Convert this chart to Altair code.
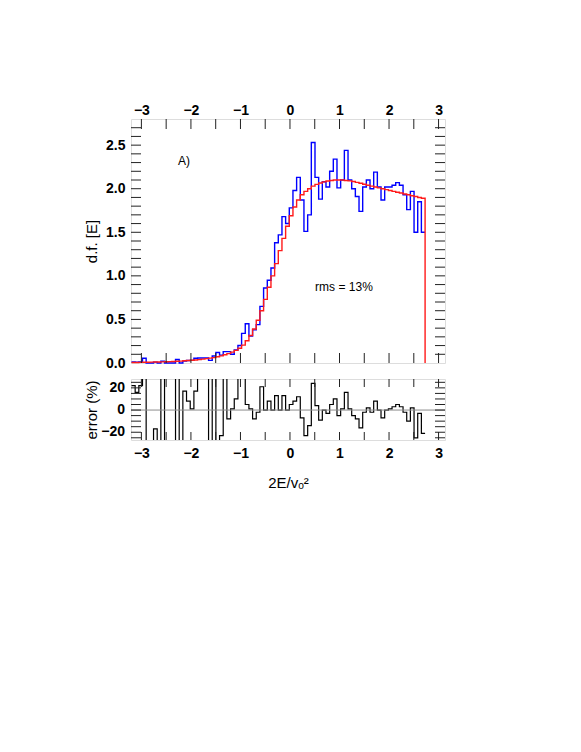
import altair as alt
import pandas as pd

# ---------------- data ----------------
bin_left = [-3.200, -3.126, -3.052, -2.978, -2.904, -2.830, -2.755, -2.681, -2.607, -2.533,
            -2.459, -2.385, -2.311, -2.237, -2.163, -2.089, -2.014, -1.940, -1.866, -1.792,
            -1.718, -1.644, -1.570, -1.496, -1.422, -1.348, -1.274, -1.199, -1.125, -1.051,
            -0.977, -0.903, -0.829, -0.755, -0.681, -0.607, -0.533, -0.458, -0.384, -0.310,
            -0.236, -0.162, -0.088, -0.014, 0.060, 0.134, 0.208, 0.282, 0.357, 0.431,
            0.505, 0.579, 0.653, 0.727, 0.801, 0.875, 0.949, 1.023, 1.098, 1.172,
            1.246, 1.320, 1.394, 1.468, 1.542, 1.616, 1.690, 1.764, 1.838, 1.912,
            1.987, 2.061, 2.135, 2.209, 2.283, 2.357, 2.431, 2.505, 2.579, 2.653]
bin_end = 2.728

df_data = [0.012, 0.010, 0.012, 0.055, 0.000, 0.000, 0.010, 0.000, 0.020, 0.000,
           0.000, 0.000, 0.040, 0.000, 0.022, 0.028, 0.030, 0.055, 0.058, 0.058,
           0.058, 0.030, 0.080, 0.120, 0.090, 0.130, 0.130, 0.100, 0.150, 0.200,
           0.340, 0.450, 0.310, 0.380, 0.440, 0.650, 0.860, 0.950, 1.090, 1.380,
           1.470, 1.680, 1.600, 1.780, 1.980, 2.130, 1.870, 1.510, 1.700, 2.530,
           2.130, 1.880, 2.080, 2.020, 2.200, 2.340, 2.010, 2.100, 2.440, 2.100,
           2.000, 1.910, 1.740, 2.020, 2.100, 2.000, 2.190, 2.020, 1.870, 2.020,
           2.020, 2.040, 2.070, 2.040, 1.930, 1.760, 1.970, 1.500, 1.850, 1.500]

df_model = [0.005, 0.006, 0.007, 0.008, 0.009, 0.010, 0.011, 0.012, 0.013, 0.015,
            0.016, 0.018, 0.020, 0.022, 0.025, 0.028, 0.031, 0.035, 0.039, 0.044,
            0.050, 0.056, 0.062, 0.071, 0.082, 0.094, 0.108, 0.125, 0.145, 0.170,
            0.205, 0.255, 0.315, 0.390, 0.490, 0.600, 0.730, 0.870, 1.000, 1.140,
            1.290, 1.430, 1.570, 1.690, 1.790, 1.870, 1.930, 1.970, 2.000, 2.030,
            2.050, 2.065, 2.078, 2.088, 2.095, 2.100, 2.100, 2.100, 2.095, 2.090,
            2.082, 2.073, 2.063, 2.052, 2.040, 2.030, 2.020, 2.010, 2.000, 1.990,
            1.980, 1.970, 1.960, 1.950, 1.940, 1.930, 1.920, 1.910, 1.900, 1.890]

err_pct = [22, 16, 22, 60, -60, -60, -17, -60, 60, -60,
           -60, -60, 60, -60, 17, 8, 1, 17, 60, 60,
           60, -60, 60, -60, -23, 60, -8, 1, 10, 60,
           60, 5, 1, -8, -2, 21, 0, 8, 0, 13,
           0, 13, 0, 5, 8, 12, -7, -23, -14, 24,
           4, -9, 0, -3, 5, 10, -5, 1, 16, 1,
           -5, -8, -16, -2, 2, -2, 8, 0, -7, 0,
           1, 3, 5, 3, -2, -10, 2, -25, -3, -21]

x_label_vals = [-3, -2, -1, 0, 1, 2, 3]
x_tick_vals = [-3, -2.5, -2, -1.5, -1, -0.5, 0, 0.5, 1, 1.5, 2, 2.5, 3]
y_label_vals = [0, 0.5, 1, 1.5, 2, 2.5]
y_tick_vals = [0.1, 0.2, 0.3, 0.4, 0.5, 0.6, 0.7, 0.8, 0.9, 1.0, 1.1, 1.2, 1.3,
               1.4, 1.5, 1.6, 1.7, 1.8, 1.9, 2.0, 2.1, 2.2, 2.3, 2.4, 2.5, 2.6, 2.7]
e_label_vals = [-20, 0, 20]
e_label_txt = ["\u221220", "0", "20"]
e_tick_vals = [-25, -20, -15, -10, -5, 0, 5, 10, 15, 20, 25]

annot_A = {"E": [-2.14], "f": [2.32], "txt": ["A)"]}
annot_rms = {"E": [1.09], "f": [0.87], "txt": ["rms = 13%"]}

# ---------------- tables ----------------
blue = pd.DataFrame({"E": bin_left + [bin_end], "f": df_data + [df_data[-1]],
                     "i": list(range(len(bin_left) + 1))})
red = pd.DataFrame({"E": bin_left + [bin_end, bin_end], "f": df_model + [df_model[-1], 0.0],
                    "i": list(range(len(bin_left) + 2))})
errdf = pd.DataFrame({"E": bin_left + [bin_end], "e": err_pct + [err_pct[-1]],
                      "i": list(range(len(bin_left) + 1))})
xt = pd.DataFrame({"t": x_tick_vals})
yt = pd.DataFrame({"t": y_tick_vals})
et = pd.DataFrame({"t": e_tick_vals})
elab = pd.DataFrame({"v": e_label_vals, "s": e_label_txt})
zero = pd.DataFrame({"z": [0]})

W, H1, H2 = 314, 244, 61
TL = 10  # tick length (px)

xs = alt.Scale(domain=[-3.21, 3.13], nice=False, zero=False)
ys = alt.Scale(domain=[0, 2.8], nice=False, zero=False)
es = alt.Scale(domain=[-27, 28], nice=False, zero=False)

lab = dict(ticks=False, domain=False, grid=False, labelFontSize=14, labelFontWeight="bold",
           labelColor="black", labelOverlap=False)

# ---------------- top panel ----------------
blue_line = alt.Chart(blue).mark_line(color="#0000ff", strokeWidth=1.4,
                                      interpolate="step-after").encode(
    x=alt.X("E:Q", scale=xs, axis=alt.Axis(orient="top", values=x_label_vals, format="d",
                                            labelPadding=2, title=None, **lab)),
    y=alt.Y("f:Q", scale=ys, axis=alt.Axis(values=y_label_vals, format=".1f", labelPadding=6,
                                            title="d.f. [E]", titleFontSize=15,
                                            titleFontWeight="normal", titlePadding=6,
                                            titleColor="black", **lab)),
    order="i:Q")

red_line = alt.Chart(red).mark_line(color="#ff1a1a", strokeWidth=1.4,
                                    interpolate="step-after").encode(
    x=alt.X("E:Q", scale=xs), y=alt.Y("f:Q", scale=ys), order="i:Q")

tick_top = alt.Chart(xt).mark_rule(color="#222", strokeWidth=1).encode(
    x=alt.X("t:Q", scale=xs), y=alt.value(0), y2=alt.value(TL))
tick_bot = alt.Chart(xt).mark_rule(color="#222", strokeWidth=1).encode(
    x=alt.X("t:Q", scale=xs), y=alt.value(H1), y2=alt.value(H1 - TL))
tick_left = alt.Chart(yt).mark_rule(color="#222", strokeWidth=1).encode(
    y=alt.Y("t:Q", scale=ys), x=alt.value(0), x2=alt.value(TL))
tick_right = alt.Chart(yt).mark_rule(color="#222", strokeWidth=1).encode(
    y=alt.Y("t:Q", scale=ys), x=alt.value(W), x2=alt.value(W - TL))

txt_a = alt.Chart(pd.DataFrame(annot_A)).mark_text(fontSize=12, color="black").encode(
    x=alt.X("E:Q", scale=xs), y=alt.Y("f:Q", scale=ys), text="txt:N")
txt_rms = alt.Chart(pd.DataFrame(annot_rms)).mark_text(fontSize=12, color="black").encode(
    x=alt.X("E:Q", scale=xs), y=alt.Y("f:Q", scale=ys), text="txt:N")

top = alt.layer(blue_line, red_line, tick_top, tick_bot, tick_left, tick_right,
                txt_a, txt_rms).properties(width=W, height=H1)

# ---------------- error panel ----------------
err_line = alt.Chart(errdf).mark_line(color="black", strokeWidth=1.2, clip=True,
                                      interpolate="step-after").encode(
    x=alt.X("E:Q", scale=xs, axis=alt.Axis(orient="bottom", values=x_label_vals, format="d",
                                            labelPadding=6, title="2E/vₒ²", titleFontSize=15,
                                            titleFontWeight="normal", titlePadding=15,
                                            titleColor="black", **lab)),
    y=alt.Y("e:Q", scale=es, axis=alt.Axis(values=e_label_vals, labels=False,
                                            ticks=False, domain=False, grid=False,
                                            title="error (%)", titleFontSize=15,
                                            titleFontWeight="normal", titlePadding=32,
                                            titleColor="black")),
    order="i:Q")

zero_line = alt.Chart(zero).mark_rule(color="#8c8c8c", strokeWidth=1).encode(
    y=alt.Y("z:Q", scale=es))

err_labels = alt.Chart(elab).mark_text(fontSize=14, fontWeight="bold", align="right",
                                       baseline="middle", color="black", dx=-6).encode(
    x=alt.value(0), y=alt.Y("v:Q", scale=es), text="s:N")

etick_top = alt.Chart(xt).mark_rule(color="#222", strokeWidth=1).encode(
    x=alt.X("t:Q", scale=xs), y=alt.value(0), y2=alt.value(8))
etick_bot = alt.Chart(xt).mark_rule(color="#222", strokeWidth=1).encode(
    x=alt.X("t:Q", scale=xs), y=alt.value(H2), y2=alt.value(H2 - 8))
etick_left = alt.Chart(et).mark_rule(color="#222", strokeWidth=1).encode(
    y=alt.Y("t:Q", scale=es), x=alt.value(0), x2=alt.value(TL))
etick_right = alt.Chart(et).mark_rule(color="#222", strokeWidth=1).encode(
    y=alt.Y("t:Q", scale=es), x=alt.value(W), x2=alt.value(W - TL))

bottom = alt.layer(err_line, zero_line, etick_top, etick_bot, etick_left,
                   etick_right, err_labels).properties(width=W, height=H2)

chart = alt.vconcat(top, bottom, spacing=16, bounds="flush").properties(
    padding={"left": 75, "top": 94, "right": 5, "bottom": 5}
).configure_view(stroke="black", strokeWidth=2.5).configure(font="Liberation Sans")

chart.save("out.html", embed_options={"renderer": "svg", "actions": False})
